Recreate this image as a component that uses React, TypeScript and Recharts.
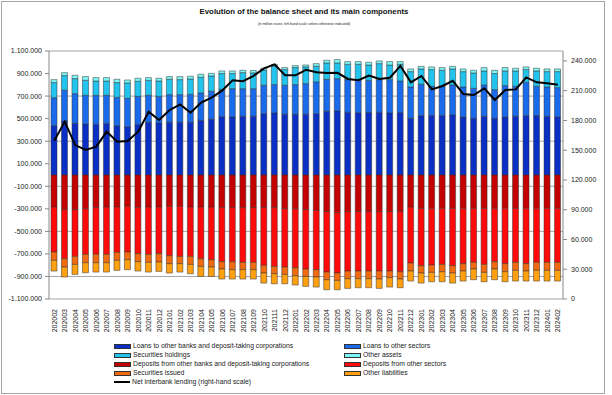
import React from "react";
import {
  ComposedChart,
  Bar,
  Line,
  XAxis,
  YAxis,
  CartesianGrid,
} from "recharts";

const categories = [
  "202002", "202003", "202004", "202005", "202006", "202007", "202008", "202009", "202010", "202011", "202012",
  "202101", "202102", "202103", "202104", "202105", "202106", "202107", "202108", "202109", "202110", "202111", "202112",
  "202201", "202202", "202203", "202204", "202205", "202206", "202207", "202208", "202209", "202210", "202211", "202212",
  "202301", "202302", "202303", "202304", "202305", "202306", "202307", "202308", "202309", "202310", "202311", "202312",
  "202401", "202402",
];

// assets (positive side)
const loansBanks = [
  438000, 479000, 459000, 453000, 450000, 456000, 438000, 429000, 450000, 468000, 462000,
  468000, 468000, 468000, 485000, 494000, 518000, 515000, 521000, 521000, 544000, 550000, 539000,
  539000, 539000, 544000, 565000, 568000, 556000, 553000, 556000, 556000, 550000, 556000, 503000,
  527000, 527000, 527000, 533000, 515000, 503000, 521000, 503000, 515000, 521000, 527000, 527000,
  521000, 515000,
];
const loansOther = [
  248000, 273000, 263000, 254000, 257000, 251000, 251000, 252000, 248000, 239000, 236000,
  245000, 245000, 248000, 243000, 249000, 242000, 251000, 245000, 245000, 252000, 252000, 257000,
  263000, 272000, 282000, 284000, 287000, 290000, 293000, 284000, 290000, 296000, 278000, 278000,
  278000, 260000, 260000, 266000, 266000, 266000, 278000, 254000, 278000, 266000, 295000, 260000,
  260000, 260000,
];
const securitiesHoldings = [
  134000, 130000, 133000, 133000, 127000, 127000, 131000, 136000, 133000, 133000, 136000,
  136000, 133000, 136000, 139000, 136000, 140000, 134000, 142000, 140000, 133000, 163000, 139000,
  151000, 148000, 139000, 145000, 139000, 136000, 136000, 136000, 142000, 130000, 148000, 136000,
  136000, 148000, 142000, 142000, 136000, 136000, 124000, 143000, 130000, 136000, 113000, 136000,
  136000, 142000,
];
const otherAssets = [
  26000, 26000, 30000, 33000, 30000, 30000, 29000, 26000, 27000, 24000, 24000,
  24000, 27000, 24000, 27000, 23000, 23000, 23000, 21000, 21000, 18000, 17000, 18000,
  17000, 17000, 23000, 24000, 30000, 24000, 24000, 24000, 24000, 30000, 24000, 24000,
  23000, 24000, 24000, 23000, 24000, 24000, 30000, 29000, 30000, 24000, 24000, 24000,
  24000, 24000,
];

// liabilities (negative side)
const depositsBanks = [
  -284000, -308000, -308000, -299000, -290000, -284000, -284000, -278000, -290000, -284000, -284000,
  -278000, -278000, -284000, -284000, -284000, -290000, -290000, -290000, -290000, -290000, -290000, -299000,
  -299000, -308000, -314000, -325000, -334000, -325000, -325000, -325000, -325000, -325000, -325000, -284000,
  -296000, -296000, -296000, -296000, -296000, -296000, -296000, -296000, -296000, -296000, -296000, -296000,
  -296000, -296000,
];
const depositsOther = [
  -399000, -435000, -414000, -405000, -414000, -420000, -402000, -405000, -408000, -420000, -414000,
  -438000, -444000, -438000, -459000, -468000, -479000, -479000, -485000, -485000, -512000, -521000, -518000,
  -524000, -526000, -526000, -536000, -536000, -527000, -527000, -527000, -527000, -527000, -533000, -497000,
  -509000, -503000, -497000, -509000, -491000, -479000, -497000, -473000, -491000, -479000, -491000, -479000,
  -479000, -479000,
];
const securitiesIssued = [
  -74000, -74000, -71000, -74000, -74000, -74000, -71000, -69000, -71000, -71000, -74000,
  -71000, -65000, -71000, -68000, -65000, -65000, -71000, -65000, -65000, -68000, -65000, -65000,
  -71000, -66000, -65000, -68000, -65000, -68000, -68000, -68000, -71000, -59000, -65000, -71000,
  -65000, -65000, -65000, -65000, -65000, -59000, -71000, -65000, -71000, -71000, -65000, -71000,
  -71000, -71000,
];
const otherLiabilities = [
  -95000, -88000, -89000, -89000, -83000, -83000, -89000, -88000, -83000, -86000, -83000,
  -83000, -74000, -83000, -89000, -83000, -89000, -83000, -83000, -83000, -89000, -89000, -83000,
  -82000, -88000, -89000, -89000, -83000, -86000, -80000, -80000, -83000, -83000, -77000, -89000,
  -89000, -83000, -89000, -89000, -89000, -95000, -83000, -95000, -89000, -95000, -89000, -95000,
  -95000, -95000,
];

// right-hand scale
const netInterbank = [
  159600, 178800, 155200, 150200, 153600, 168700, 158600, 159300, 168700, 188800, 180400,
  190500, 196200, 187800, 198000, 203000, 210000, 220500, 219500, 225000, 232500, 236500, 225500,
  225500, 231000, 228500, 227800, 228000, 221800, 220500, 225300, 221800, 223000, 235000, 218400,
  224800, 211300, 214700, 220000, 206600, 205600, 212400, 200600, 210700, 211300, 223400, 218400,
  217400, 216000,
];

const leftTicks = [-1100000, -900000, -700000, -500000, -300000, -100000, 100000, 300000, 500000, 700000, 900000, 1100000];
const rightTicks = [0, 30000, 60000, 90000, 120000, 150000, 180000, 210000, 240000];

const series = [
  { key: "loansBanks", name: "Loans to other banks and deposit-taking corporations", color: "#0A2FC4" },
  { key: "loansOther", name: "Loans to other sectors", color: "#1A6BEB" },
  { key: "securitiesHoldings", name: "Securities holdings", color: "#22C4EE" },
  { key: "otherAssets", name: "Other assets", color: "#7DF6F6" },
  { key: "depositsBanks", name: "Deposits from other banks and deposit-taking corporations", color: "#C40000" },
  { key: "depositsOther", name: "Deposits from other sectors", color: "#FF0A0A" },
  { key: "securitiesIssued", name: "Securities issued", color: "#F26A0F" },
  { key: "otherLiabilities", name: "Other liabilities", color: "#FFA010" },
];

const fmt = (v: number) => {
  const s = Math.abs(v).toString().replace(/\B(?=(\d{3})+(?!\d))/g, ".");
  return v < 0 ? "-" + s : s;
};

const FONT = '"Liberation Sans", Arial, sans-serif';

const XTick = (props: any) => {
  const { x, y, payload } = props;
  return (
    <text
      transform={`translate(${x + 2.5},${y + 2}) rotate(-90)`}
      textAnchor="end"
      fontSize={7}
      fontFamily={FONT}
      fill="#222"
    >
      {payload.value}
    </text>
  );
};

const legendLeft = [series[0], series[2], series[4], series[6]];
const legendRight = [series[1], series[3], series[5], series[7]];

export default function App() {
  const data = categories.map((c, i) => ({
    name: c,
    loansBanks: loansBanks[i],
    loansOther: loansOther[i],
    securitiesHoldings: securitiesHoldings[i],
    otherAssets: otherAssets[i],
    depositsBanks: depositsBanks[i],
    depositsOther: depositsOther[i],
    securitiesIssued: securitiesIssued[i],
    otherLiabilities: otherLiabilities[i],
    netInterbank: netInterbank[i],
  }));

  const rowY = [342, 351, 360, 369, 378];
  const swatch = (color: string) => (
    <span
      style={{
        display: "inline-block",
        width: 15,
        height: 3,
        background: color,
        border: "0.5px solid #333",
        marginRight: 2,
        verticalAlign: "middle",
      }}
    />
  );
  const legendText = {
    position: "absolute" as const,
    fontSize: 6.8,
    lineHeight: "8px",
    color: "#222",
    whiteSpace: "nowrap" as const,
  };

  return (
    <div
      style={{
        position: "absolute",
        left: 0,
        top: 0,
        width: 612,
        height: 395,
        background: "#fff",
        fontFamily: FONT,
      }}
    >
      <div
        style={{
          position: "absolute",
          left: 1,
          top: 1,
          width: 602,
          height: 391,
          border: "1px solid #a6a6a6",
        }}
      />
      <div
        style={{
          position: "absolute",
          left: 0,
          width: 608,
          top: 7,
          textAlign: "center",
          fontWeight: "bold",
          fontSize: 7.8,
          color: "#111",
        }}
      >
        Evolution of the balance sheet and its main components
      </div>
      <div
        style={{
          position: "absolute",
          left: 0,
          width: 608,
          top: 22,
          textAlign: "center",
          fontSize: 3.5,
          color: "#222",
        }}
      >
        (in million euros; left-hand scale unless otherwise indicated)
      </div>

      <ComposedChart
        width={612}
        height={395}
        data={data}
        stackOffset="sign"
        barSize={6}
        margin={{ top: 51, right: 0, left: 0, bottom: 56 }}
        style={{ position: "absolute", left: 0, top: 0 }}
      >
        <CartesianGrid
          yAxisId="left"
          vertical={false}
          stroke="#a6a6a6"
          strokeWidth={1}
        />
        <XAxis
          dataKey="name"
          interval={0}
          height={40}
          axisLine={false}
          tickLine={false}
          tick={<XTick />}
        />
        <YAxis
          yAxisId="left"
          width={49}
          domain={[-1100000, 1100000]}
          ticks={leftTicks}
          tickFormatter={fmt}
          tickSize={4}
          tickMargin={3}
          axisLine={{ stroke: "#888" }}
          tickLine={{ stroke: "#888" }}
          tick={{ fontSize: 7, fill: "#222", fontFamily: FONT }}
          allowDataOverflow
        />
        <YAxis
          yAxisId="right"
          orientation="right"
          width={49}
          domain={[0, 250000]}
          ticks={rightTicks}
          tickFormatter={fmt}
          tickSize={4}
          tickMargin={4}
          axisLine={{ stroke: "#888" }}
          tickLine={{ stroke: "#888" }}
          tick={{ fontSize: 7, fill: "#222", fontFamily: FONT }}
          allowDataOverflow
        />
        {series.map((s) => (
          <Bar
            key={s.key}
            yAxisId="left"
            dataKey={s.key}
            name={s.name}
            stackId="bs"
            fill={s.color}
            stroke="#333"
            strokeWidth={0.5}
            isAnimationActive={false}
          />
        ))}
        <Line
          yAxisId="right"
          dataKey="netInterbank"
          name="Net interbank lending (right-hand scale)"
          stroke="#000"
          strokeWidth={2}
          dot={false}
          type="linear"
          isAnimationActive={false}
        />
      </ComposedChart>

      {legendLeft.map((s, i) => (
        <div key={s.key} style={{ ...legendText, left: 114, top: rowY[i] }}>
          {swatch(s.color)}
          {s.name}
        </div>
      ))}
      <div style={{ ...legendText, left: 114, top: rowY[4] }}>
        <span
          style={{
            display: "inline-block",
            width: 16,
            height: 2,
            background: "#000",
            marginRight: 2,
            verticalAlign: "middle",
          }}
        />
        Net interbank lending (right-hand scale)
      </div>
      {legendRight.map((s, i) => (
        <div key={s.key} style={{ ...legendText, left: 344, top: rowY[i] }}>
          {swatch(s.color)}
          {s.name}
        </div>
      ))}
    </div>
  );
}
